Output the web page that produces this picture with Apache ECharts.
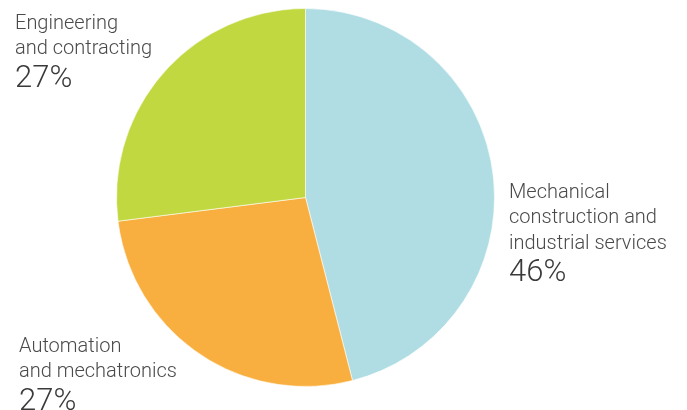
<!DOCTYPE html>
<html>
<head>
<meta charset="utf-8">
<script src="https://cdn.jsdelivr.net/npm/echarts@6/dist/echarts.min.js"></script>
<style>
  html, body { margin: 0; padding: 0; background: #fff; }
  #chart { width: 687px; height: 410px; }
</style>
</head>
<body>
<div id="chart"></div>
<script>
// segment names (line breaks as in the picture) and shares in percent
const names = [
  'Mechanical\nconstruction and\nindustrial services',
  'Automation\nand mechatronics',
  'Engineering\nand contracting'
]
const shares = [46, 27, 27]
const colors = ['#afdde3', '#f8af3f', '#c1d840']

// where each label block sits (top-left corner)
const labelPos = [
  [509, 180],
  [19, 334],
  [15, 11]
]

const chart = echarts.init(document.getElementById('chart'))
chart.setOption({
  animation: false,
  series: [
    {
      type: 'pie',
      center: [305.5, 197.5],
      radius: 189,
      startAngle: 90,
      clockwise: true,
      data: names.map((n, i) => ({
        name: n,
        value: shares[i],
        itemStyle: { color: colors[i] }
      })),
      itemStyle: { borderColor: '#fff', borderWidth: 0.6 },
      labelLine: { show: false },
      label: {
        show: true,
        position: 'outside',
        overflow: 'none',
        formatter: p => '{n|' + p.name.split('\n').join('}\n{n|') + '}\n{p|' + p.value + '%}',
        rich: {
          n: {
            fontFamily: 'Roboto',
            fontWeight: 300,
            fontSize: 20,
            lineHeight: 25.5,
            color: '#4a4a4a'
          },
          p: {
            fontFamily: 'Roboto',
            fontWeight: 300,
            fontSize: 31,
            lineHeight: 34,
            color: '#3a3a3a'
          }
        }
      },
      labelLayout: p => ({
        x: labelPos[p.dataIndex][0],
        y: labelPos[p.dataIndex][1],
        align: 'left',
        verticalAlign: 'top'
      })
    }
  ]
})
</script>
</body>
</html>
